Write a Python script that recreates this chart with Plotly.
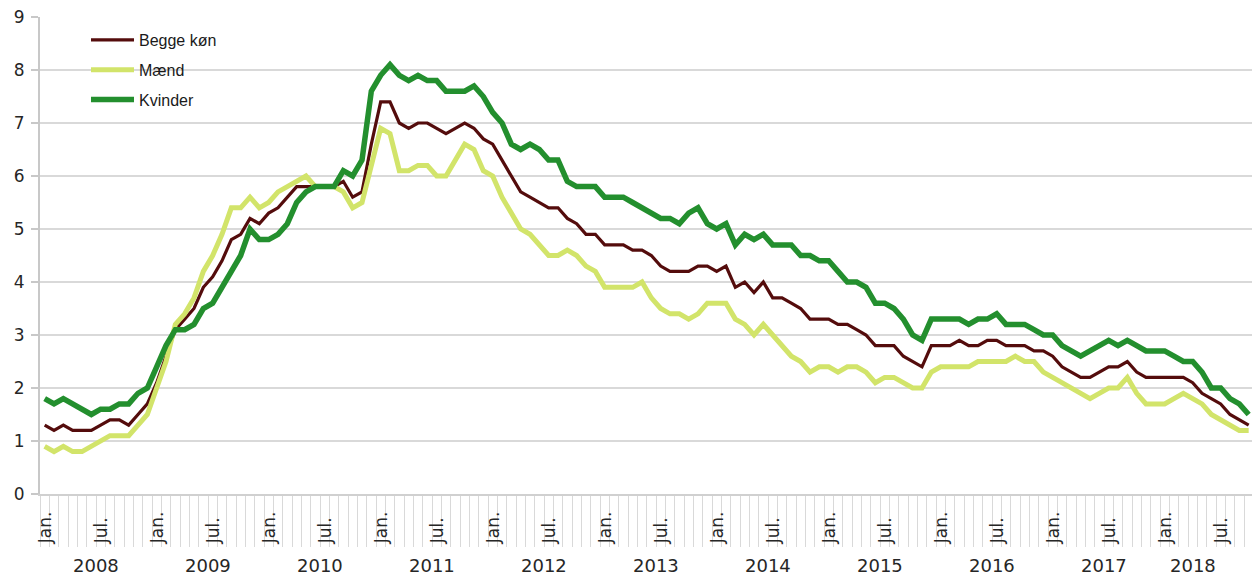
import plotly.graph_objects as go

# ---------------- data ----------------
years = [2008, 2009, 2010, 2011, 2012, 2013, 2014, 2015, 2016, 2017, 2018]
month_abbr = ["Jan.", "Feb.", "Mar.", "Apr.", "Maj", "Jun.", "Jul.", "Aug.", "Sep.", "Okt.", "Nov.", "Dec."]
labelled_months = ["Jan.", "Jul."]
n_months = 130  # Jan 2008 - Oct 2018
months = [(y, m) for y in years for m in month_abbr][:n_months]
# the last year group on the axis closes after July 2018
last_group_end = (2018, "Jul.")

begge = [
    1.3, 1.2, 1.3, 1.2, 1.2, 1.2, 1.3, 1.4, 1.4, 1.3, 1.5, 1.7,
    2.1, 2.6, 3.1, 3.3, 3.5, 3.9, 4.1, 4.4, 4.8, 4.9, 5.2, 5.1,
    5.3, 5.4, 5.6, 5.8, 5.8, 5.8, 5.8, 5.8, 5.9, 5.6, 5.7, 6.6,
    7.4, 7.4, 7.0, 6.9, 7.0, 7.0, 6.9, 6.8, 6.9, 7.0, 6.9, 6.7,
    6.6, 6.3, 6.0, 5.7, 5.6, 5.5, 5.4, 5.4, 5.2, 5.1, 4.9, 4.9,
    4.7, 4.7, 4.7, 4.6, 4.6, 4.5, 4.3, 4.2, 4.2, 4.2, 4.3, 4.3,
    4.2, 4.3, 3.9, 4.0, 3.8, 4.0, 3.7, 3.7, 3.6, 3.5, 3.3, 3.3,
    3.3, 3.2, 3.2, 3.1, 3.0, 2.8, 2.8, 2.8, 2.6, 2.5, 2.4, 2.8,
    2.8, 2.8, 2.9, 2.8, 2.8, 2.9, 2.9, 2.8, 2.8, 2.8, 2.7, 2.7,
    2.6, 2.4, 2.3, 2.2, 2.2, 2.3, 2.4, 2.4, 2.5, 2.3, 2.2, 2.2,
    2.2, 2.2, 2.2, 2.1, 1.9, 1.8, 1.7, 1.5, 1.4, 1.3,
]
maend = [
    0.9, 0.8, 0.9, 0.8, 0.8, 0.9, 1.0, 1.1, 1.1, 1.1, 1.3, 1.5,
    2.0, 2.5, 3.2, 3.4, 3.7, 4.2, 4.5, 4.9, 5.4, 5.4, 5.6, 5.4,
    5.5, 5.7, 5.8, 5.9, 6.0, 5.8, 5.8, 5.8, 5.7, 5.4, 5.5, 6.2,
    6.9, 6.8, 6.1, 6.1, 6.2, 6.2, 6.0, 6.0, 6.3, 6.6, 6.5, 6.1,
    6.0, 5.6, 5.3, 5.0, 4.9, 4.7, 4.5, 4.5, 4.6, 4.5, 4.3, 4.2,
    3.9, 3.9, 3.9, 3.9, 4.0, 3.7, 3.5, 3.4, 3.4, 3.3, 3.4, 3.6,
    3.6, 3.6, 3.3, 3.2, 3.0, 3.2, 3.0, 2.8, 2.6, 2.5, 2.3, 2.4,
    2.4, 2.3, 2.4, 2.4, 2.3, 2.1, 2.2, 2.2, 2.1, 2.0, 2.0, 2.3,
    2.4, 2.4, 2.4, 2.4, 2.5, 2.5, 2.5, 2.5, 2.6, 2.5, 2.5, 2.3,
    2.2, 2.1, 2.0, 1.9, 1.8, 1.9, 2.0, 2.0, 2.2, 1.9, 1.7, 1.7,
    1.7, 1.8, 1.9, 1.8, 1.7, 1.5, 1.4, 1.3, 1.2, 1.2,
]
kvinder = [
    1.8, 1.7, 1.8, 1.7, 1.6, 1.5, 1.6, 1.6, 1.7, 1.7, 1.9, 2.0,
    2.4, 2.8, 3.1, 3.1, 3.2, 3.5, 3.6, 3.9, 4.2, 4.5, 5.0, 4.8,
    4.8, 4.9, 5.1, 5.5, 5.7, 5.8, 5.8, 5.8, 6.1, 6.0, 6.3, 7.6,
    7.9, 8.1, 7.9, 7.8, 7.9, 7.8, 7.8, 7.6, 7.6, 7.6, 7.7, 7.5,
    7.2, 7.0, 6.6, 6.5, 6.6, 6.5, 6.3, 6.3, 5.9, 5.8, 5.8, 5.8,
    5.6, 5.6, 5.6, 5.5, 5.4, 5.3, 5.2, 5.2, 5.1, 5.3, 5.4, 5.1,
    5.0, 5.1, 4.7, 4.9, 4.8, 4.9, 4.7, 4.7, 4.7, 4.5, 4.5, 4.4,
    4.4, 4.2, 4.0, 4.0, 3.9, 3.6, 3.6, 3.5, 3.3, 3.0, 2.9, 3.3,
    3.3, 3.3, 3.3, 3.2, 3.3, 3.3, 3.4, 3.2, 3.2, 3.2, 3.1, 3.0,
    3.0, 2.8, 2.7, 2.6, 2.7, 2.8, 2.9, 2.8, 2.9, 2.8, 2.7, 2.7,
    2.7, 2.6, 2.5, 2.5, 2.3, 2.0, 2.0, 1.8, 1.7, 1.5,
]
series_names = ["Begge køn", "Mænd", "Kvinder"]
series_colors = ["#540c0c", "#d2e46a", "#238f2e"]
series_widths = [3.2, 5, 5.5]

# ---------------- figure ----------------
W, H = 1252, 576
ML, MR, MT, MB = 40, 0, 17, 82
plot_w = W - ML - MR
plot_h = H - MT - MB
cat_px = 112 / 12.0  # pixel width of one month
x_max = -0.5 + plot_w / cat_px

x = list(range(len(months)))
fig = go.Figure()
for name, vals, col, lw in zip(series_names, [begge, maend, kvinder], series_colors, series_widths):
    fig.add_trace(go.Scatter(
        x=x, y=vals, name=name, mode="lines", legendgroup=name,
        line=dict(color=col, width=lw),
        text=[f"{m} {y}" for y, m in months],
        hovertemplate="%{text}: %{y}<extra>" + name + "</extra>",
    ))

# axis group boundaries
year_starts = [i for i, (y, m) in enumerate(months) if m == "Jan."]
end_idx = months.index(last_group_end)
group_bounds = [i - 0.5 for i in year_starts] + [end_idx + 0.5]
minor_bounds = [i - 0.5 for i in range(len(months) + 1)]

grid_col = "#d9d9d9"
axis_font = dict(family="DejaVu Sans, Verdana, sans-serif", size=17, color="#262626")

fig.update_layout(
    width=W, height=H,
    margin=dict(l=ML, r=MR, t=MT, b=MB, pad=0),
    paper_bgcolor="white", plot_bgcolor="white",
    showlegend=True,
    legend=dict(
        x=(86 - ML) / plot_w, xanchor="left",
        y=1 - (23 - MT) / plot_h, yanchor="top",
        bgcolor="rgba(255,255,255,0)", borderwidth=0,
        font=dict(family="Liberation Sans, Arial, sans-serif", size=16, color="#1a1a1a"),
        tracegroupgap=6, itemwidth=43,
    ),
    xaxis=dict(
        range=[-0.5, x_max], showgrid=False, zeroline=False,
        showline=True, linecolor="#d0d0d0", linewidth=2,
        tickmode="array", tickvals=group_bounds, ticktext=[""] * len(group_bounds),
        ticks="outside", ticklen=MB, tickcolor=grid_col, tickwidth=1,
        minor=dict(tickmode="array", tickvals=minor_bounds, ticks="outside",
                   ticklen=51, tickcolor=grid_col, tickwidth=1, showgrid=False),
        showticklabels=False, fixedrange=True,
    ),
    yaxis=dict(
        range=[0, 9], dtick=1, tick0=0, showgrid=True, gridcolor=grid_col, gridwidth=1.5,
        zeroline=False, showline=True, linecolor="#c8c8c8", linewidth=2,
        ticks="outside", ticklen=7, tickcolor="#c8c8c8", tickwidth=1.5,
        tickfont=axis_font, ticklabelstandoff=3, fixedrange=True,
    ),
)

# white area behind the legend (hides the gridline there)
fig.add_shape(type="rect", xref="paper", yref="y", layer="between",
              x0=7 / plot_w, x1=220 / plot_w, y0=7.5, y1=8.5,
              fillcolor="white", line=dict(width=0))

# month labels (Jan./Jul.)
for i, (y, m) in enumerate(months):
    if m in labelled_months:
        fig.add_annotation(x=i, xref="x", y=-(546 - (MT + plot_h)) / plot_h, yref="paper",
                           text=m, textangle=-90, showarrow=False,
                           xanchor="center", yanchor="bottom", font=axis_font)

# year labels centred under their group
for yr in years:
    idx = [i for i, (y, m) in enumerate(months) if y == yr and i <= end_idx]
    if not idx:
        continue
    fig.add_annotation(x=(idx[0] + idx[-1]) / 2, xref="x",
                       y=-(565 - (MT + plot_h)) / plot_h, yref="paper",
                       text=str(yr), showarrow=False, xanchor="center", yanchor="middle",
                       font=dict(family="DejaVu Sans, Verdana, sans-serif", size=18, color="#262626"))

fig.write_html("out.html", config={"displayModeBar": False},
               post_script="document.body.style.margin='0';document.body.style.overflow='hidden';")
